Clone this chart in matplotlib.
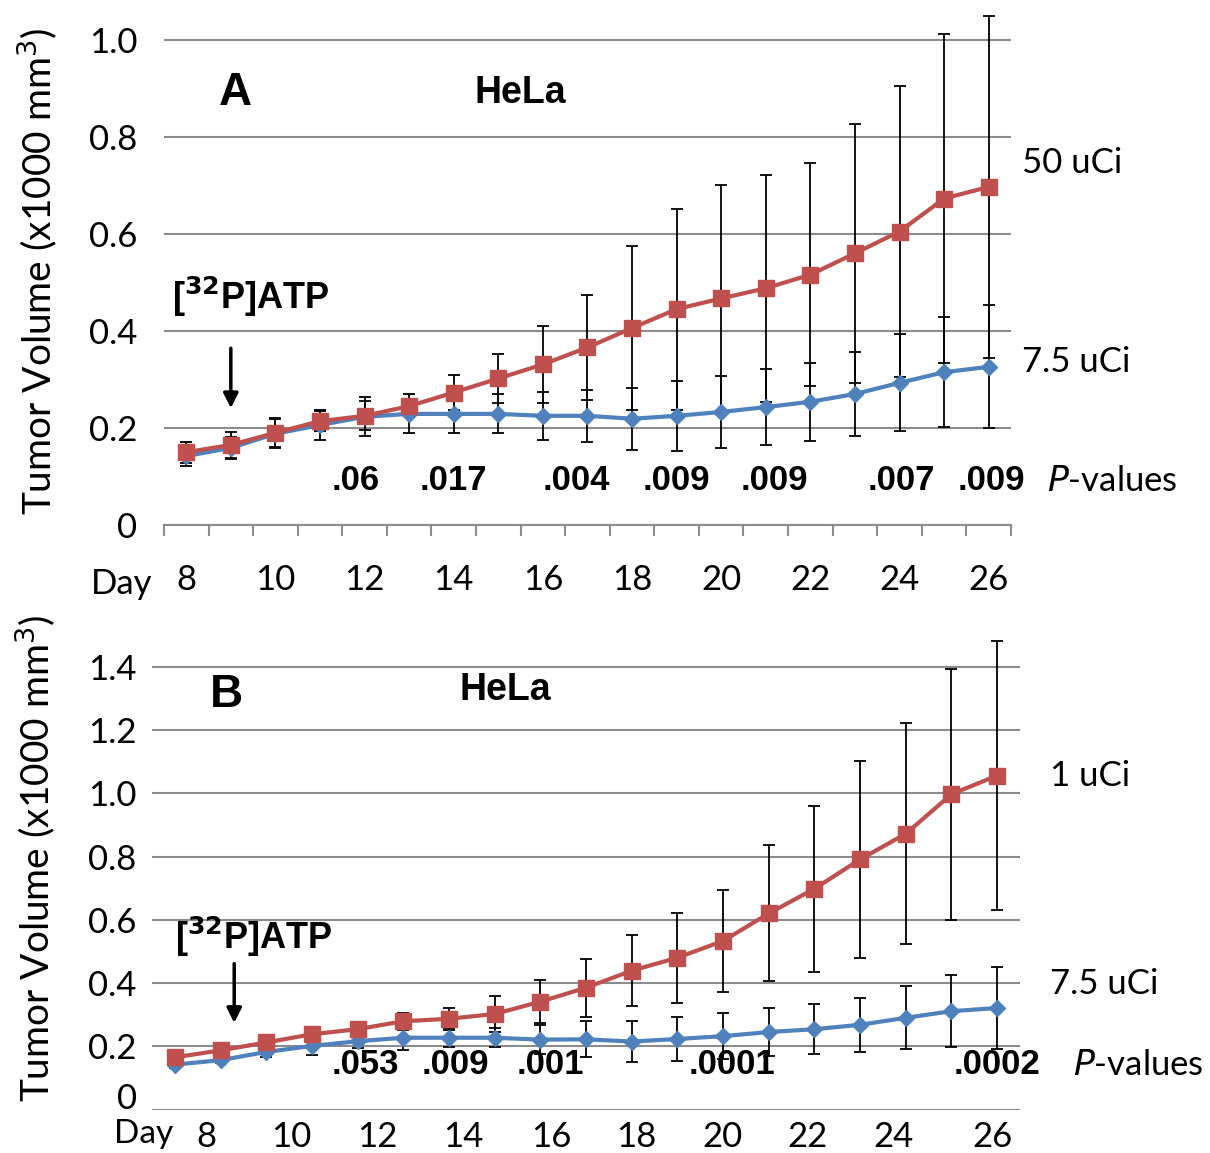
import numpy as np
import matplotlib.pyplot as plt
from matplotlib.transforms import ScaledTranslation

plt.rcParams['font.family'] = ['Lato', 'DejaVu Sans']
BOLD = ['Liberation Sans', 'DejaVu Sans']

days = np.arange(8, 27)

# panel A (50 uCi vs 7.5 uCi)
a_hi = [0.150, 0.165, 0.190, 0.214, 0.225, 0.245, 0.273, 0.302, 0.331, 0.366, 0.406, 0.445,
        0.467, 0.488, 0.516, 0.560, 0.605, 0.673, 0.697]
a_hi_err = [0.022, 0.027, 0.030, 0.021, 0.030, 0.012, 0.036, 0.051, 0.080, 0.108, 0.170, 0.207,
            0.233, 0.234, 0.230, 0.267, 0.300, 0.340, 0.353]
a_lo = [0.142, 0.159, 0.188, 0.206, 0.223, 0.229, 0.229, 0.229, 0.225, 0.225, 0.219, 0.225,
        0.233, 0.243, 0.254, 0.270, 0.293, 0.315, 0.326]
a_lo_err = [0.020, 0.023, 0.030, 0.030, 0.040, 0.040, 0.040, 0.040, 0.050, 0.054, 0.064, 0.072,
            0.074, 0.078, 0.080, 0.086, 0.100, 0.114, 0.127]
a_p_days = [11.8, 14.0, 16.75, 19.0, 21.2, 24.05, 26.05]
a_p_text = ['.06', '.017', '.004', '.009', '.009', '.007', '.009']

# panel B (1 uCi vs 7.5 uCi)
b_hi = [0.165, 0.187, 0.212, 0.238, 0.254, 0.279, 0.287, 0.302, 0.341, 0.385, 0.439, 0.480,
        0.533, 0.620, 0.698, 0.791, 0.872, 0.997, 1.056]
b_hi_err = [0.010, 0.010, 0.010, 0.010, 0.015, 0.026, 0.035, 0.056, 0.068, 0.091, 0.112, 0.142,
            0.160, 0.215, 0.263, 0.311, 0.349, 0.397, 0.426]
b_lo = [0.142, 0.156, 0.182, 0.201, 0.216, 0.227, 0.227, 0.227, 0.221, 0.222, 0.215, 0.223,
        0.232, 0.245, 0.254, 0.268, 0.290, 0.311, 0.321]
b_lo_err = [0.010, 0.010, 0.015, 0.028, 0.020, 0.040, 0.030, 0.030, 0.047, 0.057, 0.064, 0.071,
            0.073, 0.076, 0.080, 0.086, 0.100, 0.114, 0.131]
b_p_days = [12.16, 14.13, 16.23, 20.19, 26.0]
b_p_text = ['.053', '.009', '.001', '.0001', '.0002']

RED = '#C0504D'
BLUE = '#4F81BD'
GRID = '#8c8c8c'


def draw(ax, hi, hi_err, lo, lo_err):
    ax.errorbar(days, lo, yerr=lo_err, fmt='none', ecolor='black', elinewidth=1.3,
                capsize=4, capthick=1.3, zorder=2)
    ax.errorbar(days, hi, yerr=hi_err, fmt='none', ecolor='black', elinewidth=1.3,
                capsize=4, capthick=1.3, zorder=2)
    ax.plot(days, lo, color=BLUE, lw=3, marker='D', ms=8, zorder=3)
    ax.plot(days, hi, color=RED, lw=3, marker='s', ms=11, zorder=4)
    ax.set_xlim(7.5, 26.5)
    for s in ['top', 'right', 'left']:
        ax.spines[s].set_visible(False)
    ax.grid(axis='y', color=GRID, lw=1.5)
    ax.set_axisbelow(True)
    ax.tick_params(axis='y', length=0, labelsize=25)


fig = plt.figure(figsize=(12.1, 11.53), dpi=100)

# ---------- panel A
ax1 = fig.add_axes([0.1355, 0.5447, 0.7000, 0.4501])
draw(ax1, a_hi, a_hi_err, a_lo, a_lo_err)
ax1.set_ylim(0, 1.07)
ax1.set_yticks([0, 0.2, 0.4, 0.6, 0.8, 1.0])
ax1.set_yticklabels(['0', '0.2', '0.4', '0.6', '0.8', '1.0'])
ax1.tick_params(axis='y', pad=19)
ax1.spines['bottom'].set_color(GRID)
ax1.spines['bottom'].set_linewidth(1.5)
ax1.set_xticks(np.arange(7.5, 27, 1), minor=True)
ax1.set_xticks(np.arange(8, 27, 2))
ax1.tick_params(axis='x', which='major', length=0, labelsize=25, pad=28)
ax1.tick_params(axis='x', which='minor', length=8, width=1.5, color=GRID)
ax1.text(-0.05, -0.114, 'Day', transform=ax1.transAxes, fontsize=25, ha='center', va='center')

ax1.text(9.1, 0.89, 'A', fontsize=33, fontweight='bold', family=BOLD, ha='center', va='center')
ax1.text(15.5, 0.89, 'HeLa', fontsize=27, fontweight='bold', family=BOLD, ha='center', va='center')
ax1.text(9.45, 0.47, r'[$^{\mathbf{32}}$P]ATP', fontsize=26, fontweight='bold', family=BOLD,
         ha='center', va='center')
ax1.annotate('', xy=(9.0, 0.235), xytext=(9.0, 0.37),
             arrowprops=dict(arrowstyle='-|>', color='black', lw=2.5, mutation_scale=22))
for d, t in zip(a_p_days, a_p_text):
    ax1.text(d, 0.091, t, fontsize=25, fontweight='bold', family=BOLD, ha='center', va='center')
ax1.text(1.0425, 0.091, r'$\it{P}$-values', transform=ax1.get_yaxis_transform(),
         fontsize=25, ha='left', va='center', clip_on=False)
ax1.text(1.013, 0.747, '50 uCi', transform=ax1.get_yaxis_transform(), fontsize=25,
         ha='left', va='center')
ax1.text(1.013, 0.336, '7.5 uCi', transform=ax1.get_yaxis_transform(), fontsize=25,
         ha='left', va='center')
fig.text(0.031, 0.765, 'Tumor Volume (x1000 mm$^3$)', rotation=90, fontsize=28,
         ha='center', va='center')

# ---------- panel B
ax2 = fig.add_axes([0.1256, 0.0377, 0.7174, 0.4315])
draw(ax2, b_hi, b_hi_err, b_lo, b_lo_err)
ax2.set_ylim(0, 1.573)
ax2.set_yticks([0, 0.2, 0.4, 0.6, 0.8, 1.0, 1.2, 1.4])
ax2.set_yticklabels(['0', '0.2', '0.4', '0.6', '0.8', '1.0', '1.2', '1.4'])
ax2.tick_params(axis='y', pad=11)
# the "0" label sits a little above its gridline in the original
zero_lbl = ax2.get_yticklabels()[0]
zero_lbl.set_transform(zero_lbl.get_transform() + ScaledTranslation(0, 10 / 72, fig.dpi_scale_trans))
ax2.spines['bottom'].set_visible(False)
b_label_pos = [8.70, 10.56, 12.44, 14.32, 16.23, 18.11, 19.99, 21.85, 23.73, 25.90]
ax2.set_xticks(b_label_pos)
ax2.set_xticklabels([str(d) for d in range(8, 27, 2)])
ax2.tick_params(axis='x', length=0, labelsize=25, pad=8)
ax2.text(-0.01, -0.05, 'Day', transform=ax2.transAxes, fontsize=24, ha='center', va='center')

ax2.text(9.12, 1.31, 'B', fontsize=33, fontweight='bold', family=BOLD, ha='center', va='center')
ax2.text(15.24, 1.325, 'HeLa', fontsize=27, fontweight='bold', family=BOLD, ha='center', va='center')
ax2.text(9.73, 0.546, r'[$^{\mathbf{32}}$P]ATP', fontsize=26, fontweight='bold', family=BOLD,
         ha='center', va='center')
ax2.annotate('', xy=(9.3, 0.265), xytext=(9.3, 0.47),
             arrowprops=dict(arrowstyle='-|>', color='black', lw=2.5, mutation_scale=22))
for d, t in zip(b_p_days, b_p_text):
    ax2.text(d, 0.141, t, fontsize=25, fontweight='bold', family=BOLD, ha='center', va='center')
ax2.text(1.061, 0.141, r'$\it{P}$-values', transform=ax2.get_yaxis_transform(),
         fontsize=25, ha='left', va='center')
ax2.text(1.035, 1.055, '1 uCi', transform=ax2.get_yaxis_transform(), fontsize=25,
         ha='left', va='center')
ax2.text(1.035, 0.396, '7.5 uCi', transform=ax2.get_yaxis_transform(), fontsize=25,
         ha='left', va='center')
fig.text(0.029, 0.256, 'Tumor Volume (x1000 mm$^3$)', rotation=90, fontsize=28,
         ha='center', va='center')

fig.savefig('out.png', dpi=100)
